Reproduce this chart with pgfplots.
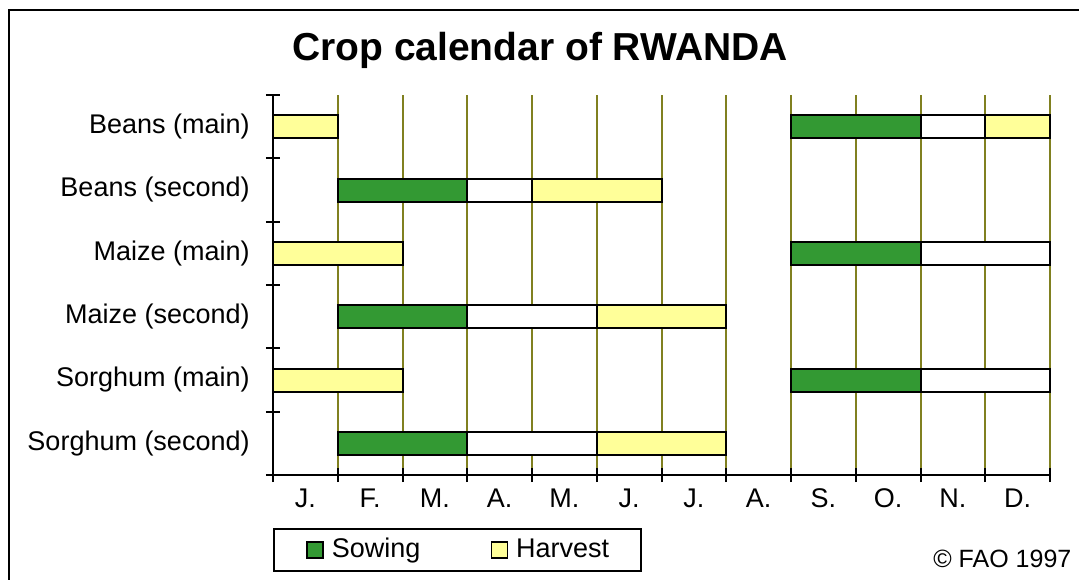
\documentclass[border=0pt]{standalone}
\usepackage{pgfplots}
\pgfplotsset{compat=1.18}
\usepackage{fontspec}
\setmainfont{Liberation Sans}
\definecolor{sow}{RGB}{51,153,51}
\definecolor{harv}{RGB}{255,255,153}
\definecolor{gridol}{RGB}{128,128,32}
\pgfplotsset{sq legend/.style={legend image code/.code={\path (0pt,0pt); \draw[##1,line width=0.8pt] (4pt,-4pt) rectangle (12pt,4pt);}}}
\begin{document}
\begin{tikzpicture}
\path[use as bounding box] (-136.5pt,-52pt) rectangle (403pt,237.5pt);
\begin{axis}[
  at={(0,0)}, anchor=south west,
  scale only axis, width=388.5pt, height=190pt,
  xmin=0, xmax=12, ymin=0, ymax=6,
  clip=false,
  xbar stacked, bar width=11.5pt,
  axis x line=bottom, axis y line=left,
  axis line style={-, line width=1pt, black},
  xtick={0,1,2,3,4,5,6,7,8,9,10,11,12}, xticklabels={},
  ytick={0,1,2,3,4,5,6}, yticklabels={},
  tick align=center, major tick length=7pt,
  tick style={black, line width=1pt},
  xmajorgrids, grid style={gridol, line width=1pt},
  extra x ticks={0.5,1.5,2.5,3.5,4.5,5.5,6.5,7.5,8.5,9.5,10.5,11.5},
  extra x tick labels={J.,F.,M.,A.,M.,J.,J.,A.,S.,O.,N.,D.},
  extra x tick style={grid=none, major tick length=0pt},
  extra y ticks={0.5,1.5,2.5,3.5,4.5,5.5},
  extra y tick labels={Sorghum (second),Sorghum (main),Maize (second),Maize (main),Beans (second),Beans (main)},
  extra y tick style={major tick length=0pt},
  /pgf/number format/assume math mode=true,
  xticklabel style={font=\fontsize{13.5}{16}\selectfont, anchor=base, inner sep=0pt, yshift=-16pt},
  yticklabel style={font=\fontsize{13.5}{16}\selectfont, inner xsep=0pt, xshift=-11.5pt},
  title={Crop calendar of RWANDA},
  title style={at={(axis description cs:0.3436,1.0605)}, anchor=base, inner sep=0pt,
    font=\bfseries\fontsize{19.5}{22}\selectfont},
  legend columns=2,
  legend style={at={(axis description cs:0,0)}, anchor=north west, yshift=-26.5pt,
    draw=black, line width=1pt, fill=white, inner xsep=12pt, inner ysep=2.5pt,
    font=\fontsize{13.5}{16}\selectfont,
    nodes={inner xsep=4pt, inner ysep=2pt, text depth=0.2em},
    /tikz/every even column/.append style={column sep=27pt}},
]
% early harvest (Jan / Jan-Feb)
\addplot[fill=harv, draw=black, line width=1pt, forget plot]
  coordinates {(1,5.5) (0,4.5) (2,3.5) (0,2.5) (2,1.5) (0,0.5)};
% gap (not drawn)
\addplot[draw=none, fill=none, forget plot]
  coordinates {(7,5.5) (1,4.5) (6,3.5) (1,2.5) (6,1.5) (1,0.5)};
% sowing
\addplot[fill=sow, draw=black, line width=1pt, sq legend]
  coordinates {(2,5.5) (2,4.5) (2,3.5) (2,2.5) (2,1.5) (2,0.5)};
\addlegendentry{Sowing}
% growing (white)
\addplot[fill=white, draw=black, line width=1pt, forget plot]
  coordinates {(1,5.5) (1,4.5) (2,3.5) (2,2.5) (2,1.5) (2,0.5)};
% late harvest
\addplot[fill=harv, draw=black, line width=1pt, sq legend]
  coordinates {(1,5.5) (2,4.5) (0,3.5) (2,2.5) (0,1.5) (2,0.5)};
\addlegendentry{Harvest}
\node[anchor=base west, font=\fontsize{12.5}{15}\selectfont, inner sep=0pt]
  at (rel axis cs:0.8494,-0.2447) {© FAO 1997};
\end{axis}
\draw[line width=1.25pt, black] (-132pt,-60pt) -- (-132pt,232.5pt) -- (410pt,232.5pt);
\end{tikzpicture}
\end{document}
